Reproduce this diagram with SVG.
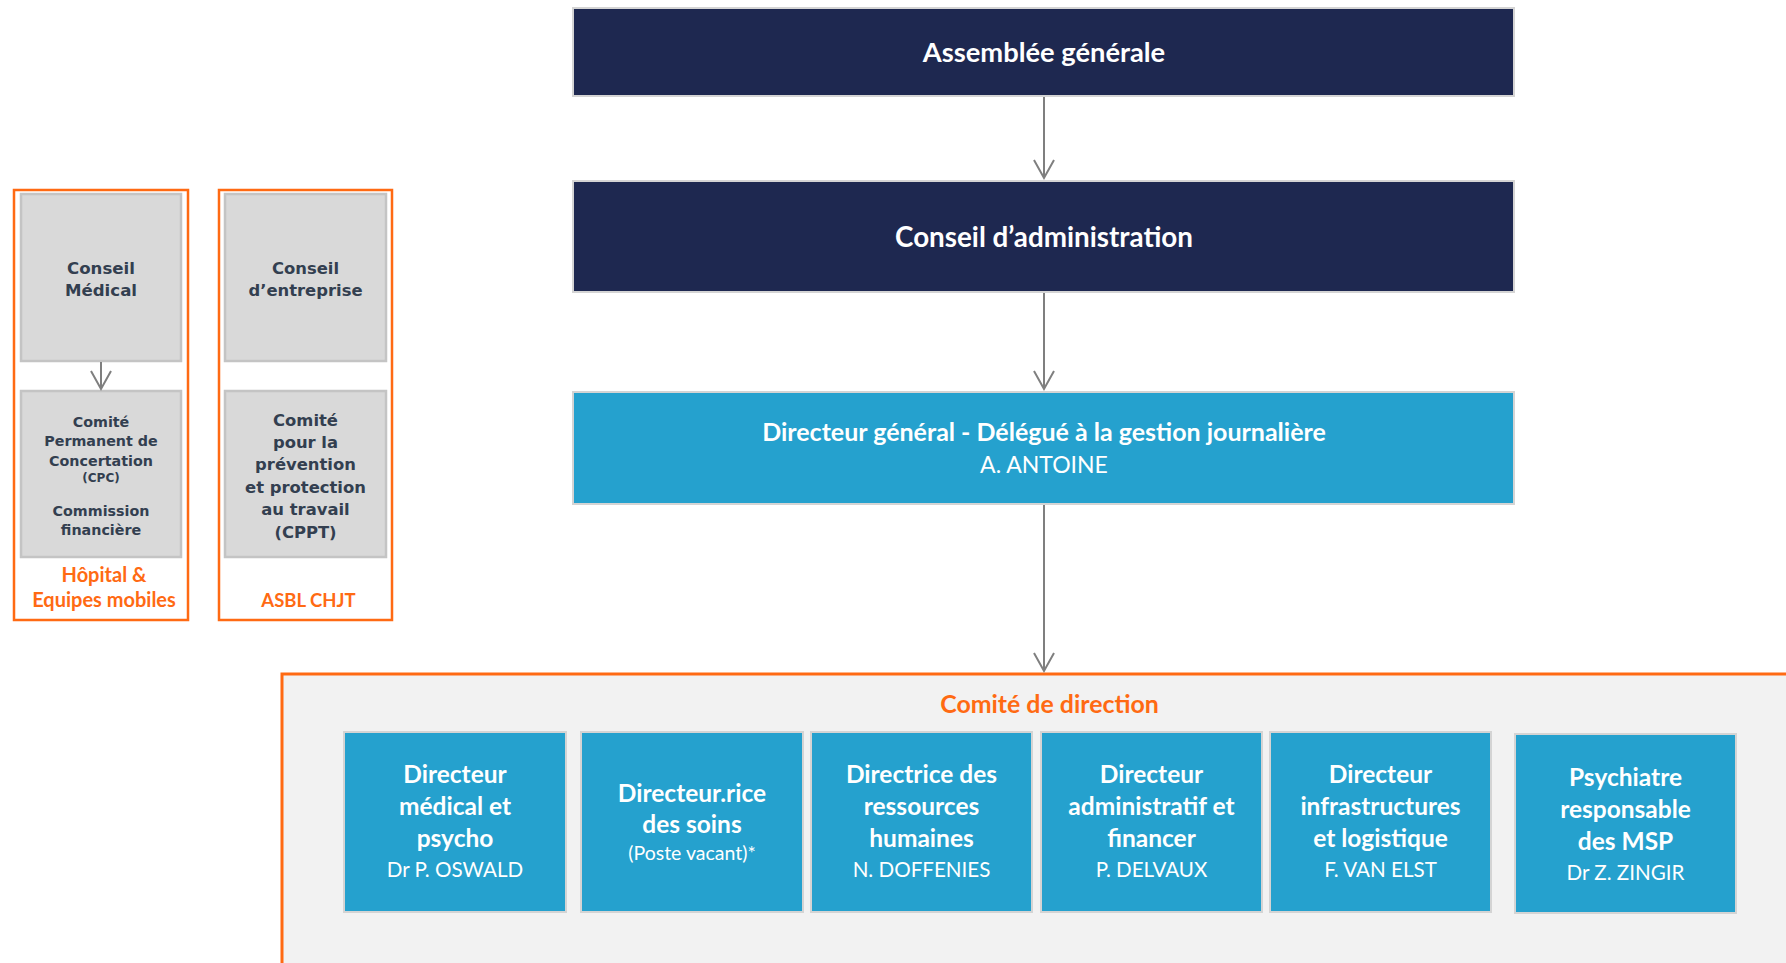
<svg xmlns="http://www.w3.org/2000/svg" width="1786" height="963" viewBox="0 0 1786 963">
<defs>
<style>
.navy{fill:#1E2850;stroke:#D4D4D4;stroke-width:2}
.blue{fill:#25A1CE;stroke:#D4D4D4;stroke-width:2}
.gray{fill:#D9D9D9;stroke:#C4C4C4;stroke-width:2.5}
.obox{fill:#FFFFFF;stroke:#FF6A13;stroke-width:2.5}
.wt{font-family:Lato,"Open Sans",sans-serif;fill:#FFFFFF;text-anchor:middle}
.b{font-weight:bold}
.gt{font-family:"DejaVu Sans",Verdana,sans-serif;font-weight:bold;fill:#333F50;text-anchor:middle}
.ot{font-family:Lato,"Open Sans",sans-serif;font-weight:bold;fill:#FF6A13;text-anchor:middle}
.conn{stroke:#7F7F7F;stroke-width:2;fill:none}
.t1{font-size:24.5px}
.nm{font-size:20.6px}
</style>
<marker id="arr" markerUnits="userSpaceOnUse" markerWidth="22" markerHeight="24" viewBox="0 0 22 24" refX="19" refY="11" orient="auto">
<path d="M1,1 L19,11 L1,21" fill="none" stroke="#7F7F7F" stroke-width="2"/>
</marker>
</defs>
<rect width="1786" height="963" fill="#FFFFFF"/>

<g id="left-panel-hopital">
<rect class="obox" x="14" y="190" width="174" height="430"/>
<text class="ot" x="104" y="582" font-size="20">Hôpital &amp;</text>
<text class="ot" x="104" y="607" font-size="20">Equipes mobiles</text>
</g>
<g id="conseil-medical">
<rect class="gray" x="21" y="194" width="160" height="167"/>
<text class="gt" x="101" y="274" font-size="16.6">Conseil</text>
<text class="gt" x="101" y="296" font-size="16.6">Médical</text>
</g>
<g id="cpc">
<rect class="gray" x="21" y="391" width="160" height="166"/>
<text class="gt" x="101" y="427" font-size="14.3">Comité</text>
<text class="gt" x="101" y="446" font-size="14.3">Permanent de</text>
<text class="gt" x="101" y="466" font-size="14.3">Concertation</text>
<text class="gt" x="101" y="482" font-size="12">(CPC)</text>
<text class="gt" x="101" y="516" font-size="14.3">Commission</text>
<text class="gt" x="101" y="535" font-size="14.3">financière</text>
</g>

<g id="right-panel-asbl">
<rect class="obox" x="219" y="190" width="173" height="430"/>
<text class="ot" x="308.5" y="607" font-size="18.5">ASBL CHJT</text>
</g>
<g id="conseil-entreprise">
<rect class="gray" x="225" y="194" width="161" height="167"/>
<text class="gt" x="305.5" y="274" font-size="16.4">Conseil</text>
<text class="gt" x="305.5" y="296" font-size="16.4">d’entreprise</text>
</g>
<g id="cppt">
<rect class="gray" x="225" y="391" width="161" height="166"/>
<text class="gt" x="305.5" y="426" font-size="16.4">Comité</text>
<text class="gt" x="305.5" y="448" font-size="16.4">pour la</text>
<text class="gt" x="305.5" y="470" font-size="16.4">prévention</text>
<text class="gt" x="305.5" y="493" font-size="16.4">et protection</text>
<text class="gt" x="305.5" y="515" font-size="16.4">au travail</text>
<text class="gt" x="305.5" y="538" font-size="16.4">(CPPT)</text>
</g>

<g id="assemblee-generale">
<rect class="navy" x="573" y="8" width="941" height="88"/>
<text class="wt b" x="1044" y="62" font-size="27.3">Assemblée générale</text>
</g>
<g id="conseil-administration">
<rect class="navy" x="573" y="181" width="941" height="111"/>
<text class="wt b" x="1044" y="247" font-size="27.8">Conseil d’administration</text>
</g>
<g id="directeur-general">
<rect class="blue" x="573" y="392" width="941" height="112"/>
<text class="wt b" x="1044" y="441" font-size="25">Directeur général - Délégué à la gestion journalière</text>
<text class="wt" x="1044" y="473" font-size="23">A. ANTOINE</text>
</g>

<g id="comite-direction">
<rect x="282" y="674" width="1530" height="320" fill="#F2F2F2" stroke="#FF6A13" stroke-width="3"/>
<text class="ot" x="1049.5" y="713" font-size="24.9">Comité de direction</text>
</g>

<g id="dir-medical">
<rect class="blue" x="344" y="732" width="222" height="180"/>
<text class="wt b t1" x="455" y="783">Directeur</text>
<text class="wt b t1" x="455" y="815">médical et</text>
<text class="wt b t1" x="455" y="847">psycho</text>
<text class="wt nm" x="455" y="877">Dr P. OSWALD</text>
</g>
<g id="dir-soins">
<rect class="blue" x="581" y="732" width="222" height="180"/>
<text class="wt b t1" x="692" y="802">Directeur.rice</text>
<text class="wt b t1" x="692" y="833">des soins</text>
<text class="wt" x="692" y="860" font-size="19.5">(Poste vacant)*</text>
</g>
<g id="dir-rh">
<rect class="blue" x="811" y="732" width="221" height="180"/>
<text class="wt b t1" x="921.5" y="783">Directrice des</text>
<text class="wt b t1" x="921.5" y="815">ressources</text>
<text class="wt b t1" x="921.5" y="847">humaines</text>
<text class="wt nm" x="921.5" y="877">N. DOFFENIES</text>
</g>
<g id="dir-admin">
<rect class="blue" x="1041" y="732" width="221" height="180"/>
<text class="wt b t1" x="1151.5" y="783">Directeur</text>
<text class="wt b t1" x="1151.5" y="815">administratif et</text>
<text class="wt b t1" x="1151.5" y="847">financer</text>
<text class="wt nm" x="1151.5" y="877">P. DELVAUX</text>
</g>
<g id="dir-infra">
<rect class="blue" x="1270" y="732" width="221" height="180"/>
<text class="wt b t1" x="1380.5" y="783">Directeur</text>
<text class="wt b t1" x="1380.5" y="815">infrastructures</text>
<text class="wt b t1" x="1380.5" y="847">et logistique</text>
<text class="wt nm" x="1380.5" y="877">F. VAN ELST</text>
</g>
<g id="psychiatre-msp">
<rect class="blue" x="1515" y="734" width="221" height="179"/>
<text class="wt b t1" x="1625.5" y="786">Psychiatre</text>
<text class="wt b t1" x="1625.5" y="818">responsable</text>
<text class="wt b t1" x="1625.5" y="850">des MSP</text>
<text class="wt nm" x="1625.5" y="880">Dr Z. ZINGIR</text>
</g>

<g id="connectors">
<line class="conn" x1="101" y1="362" x2="101" y2="389" marker-end="url(#arr)"/>
<line class="conn" x1="1044" y1="97" x2="1044" y2="178" marker-end="url(#arr)"/>
<line class="conn" x1="1044" y1="293" x2="1044" y2="389" marker-end="url(#arr)"/>
<line class="conn" x1="1044" y1="505" x2="1044" y2="671" marker-end="url(#arr)"/>
</g>
</svg>
